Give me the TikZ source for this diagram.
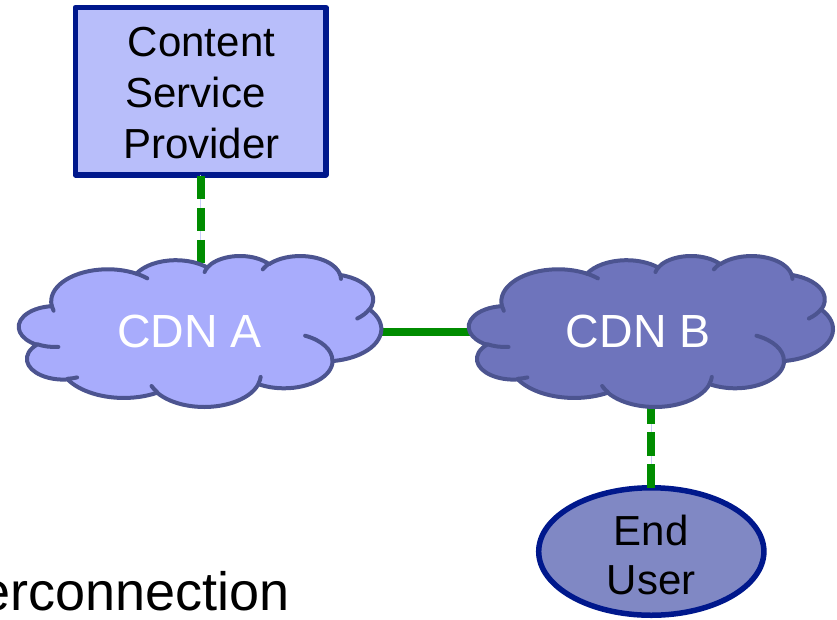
\documentclass[tikz,border=0pt]{standalone}
\usepackage{fontspec}
\setmainfont{Liberation Sans}
\usetikzlibrary{shapes.geometric}
\definecolor{navy}{RGB}{0,24,140}
\definecolor{boxfill}{RGB}{184,190,250}
\definecolor{cloudAfill}{RGB}{168,172,252}
\definecolor{cloudBfill}{RGB}{110,116,188}
\definecolor{cloudline}{RGB}{76,84,144}
\definecolor{userfill}{RGB}{128,136,196}
\definecolor{linkgreen}{RGB}{0,140,0}
\definecolor{lav}{RGB}{200,204,248}
\tikzset{
  ooarc/.style n args={4}{start angle={atan2((#1)*sin(#3),(#2)*cos(#3))},
    delta angle={mod(atan2((#1)*sin((#3)+(#4)),(#2)*cos((#3)+(#4)))-atan2((#1)*sin(#3),(#2)*cos(#3))+720,360)},
    x radius=#1, y radius=#2},
  cspbox/.style={draw=navy, line width=5.5pt, fill=boxfill, line join=round,
    minimum width=250.5pt, minimum height=167.2pt, inner sep=0pt, outer sep=0pt},
  userell/.style={ellipse, draw=navy, line width=5.5pt, fill=userfill,
    minimum width=225.2pt, minimum height=127.5pt, inner sep=0pt, outer sep=0pt},
  boxlabel/.style={font=\fontsize{42}{51.3}\selectfont, align=center, inner sep=0pt, text=black},
  userlabel/.style={font=\fontsize{42}{49.3}\selectfont, align=center, inner sep=0pt, text=black},
  cloudtext/.style={font=\fontsize{46.5}{52}\selectfont, text=white, inner sep=0pt},
  cloudedge/.style={draw=cloudline, line width=4pt, line join=round, line cap=round},
  linkdash/.style={draw=linkgreen, line width=8pt, dash pattern=on 23.5pt off 8.6pt},
  linksolid/.style={draw=linkgreen, line width=7.7pt},
  gapline/.style={draw=lav, line width=1.2pt},
  titletext/.style={font=\fontsize{54}{60}\selectfont, inner sep=0pt, anchor=base east}
}
\newcommand\pptcloud[5]{%
\begin{scope}[shift={(#1,#2)}, x={(#3pt,0pt)}, y={(0pt,-#4pt)}]
 \path[fill=#5, cloudedge] (39.00,143.70)
   arc[ooarc={67.53}{91.90}{-190.4875}{123.7805}]
   arc[ooarc={53.33}{72.67}{-144.1024}{89.9452}]
   arc[ooarc={43.65}{59.45}{-145.8079}{99.7230}]
   arc[ooarc={48.57}{65.95}{-130.9861}{117.2417}]
   arc[ooarc={53.33}{72.73}{-78.7089}{109.0269}]
   arc[ooarc={67.75}{92.20}{-46.2673}{130.2690}]
   arc[ooarc={57.85}{78.67}{0.6250}{114.0333}]
   arc[ooarc={67.52}{92.15}{22.4516}{115.1726}]
   arc[ooarc={77.20}{105.43}{66.2426}{75.7110}]
   arc[ooarc={43.60}{59.18}{-274.9421}{146.7356}]
   arc[ooarc={43.45}{59.45}{-246.8285}{152.5189}]
   -- cycle;
 \path[cloudedge]
   (46.93,261.77) arc[ooarc={43.45}{59.45}{86.7420}{26.4295}]
   (69.28,348.99) arc[ooarc={43.60}{59.18}{73.6105}{11.4475}]
   (164.78,390.90) arc[ooarc={67.52}{92.15}{137.6242}{14.0811}]
   (288.27,347.51) arc[ooarc={67.52}{92.15}{6.4533}{15.9984}]
   (341.29,229.54) arc[ooarc={57.85}{78.67}{-70.2924}{70.9174}]
   (417.98,153.54) arc[ooarc={53.33}{72.73}{30.3180}{27.7515}]
   (383.24,54.26) arc[ooarc={48.57}{65.95}{-13.7443}{14.8589}]
   (290.78,39.52) arc[ooarc={48.57}{65.95}{-149.1815}{18.1954}]
   (221.41,47.20) arc[ooarc={43.65}{59.45}{-163.4943}{17.6864}]
   (140.00,51.92) arc[ooarc={67.53}{91.90}{-66.7070}{12.3194}]
   (41.27,157.89) arc[ooarc={67.53}{91.90}{157.6544}{11.8582}];
\end{scope}}
\begin{document}
\begin{tikzpicture}[x=1pt, y=-1pt]
\useasboundingbox (0,0) rectangle (837,619);
% shapes with text
\node[cspbox, label={[boxlabel, xshift=1pt, yshift=-1.85pt]center:{Content\\Service\kern11.7pt\\Provider}}] (csp) at (200.5,91.15) {};
\node[userell, label={[userlabel, yshift=-3.5pt]center:{End\\User}}] (eu) at (651.3,551.5) {};
\coordinate (cA) at (189.5,331.7);
\coordinate (cB) at (638.3,331.7);
% connectors
\draw[gapline] (csp.south) -- (csp.south |- cA);
\draw[linkdash] ([yshift=-1pt]csp.south) -- (csp.south |- cA);
\draw[linksolid] (cA) -- (cB);
\draw[gapline] (eu.north) -- (eu.north |- cB);
\draw[linkdash] (eu.north) -- (eu.north |- cB);
% clouds
\pptcloud{19}{255.5}{0.8384}{0.3494}{cloudAfill}
\pptcloud{469}{255.5}{0.8423}{0.3494}{cloudBfill}
\node[cloudtext] (cdnA) at (cA) {CDN A};
\node[cloudtext] (cdnB) at (cB) {CDN B};
% clipped title text
\node[titletext] (title) at (289.7,610) {erconnection};
\end{tikzpicture}
\end{document}
